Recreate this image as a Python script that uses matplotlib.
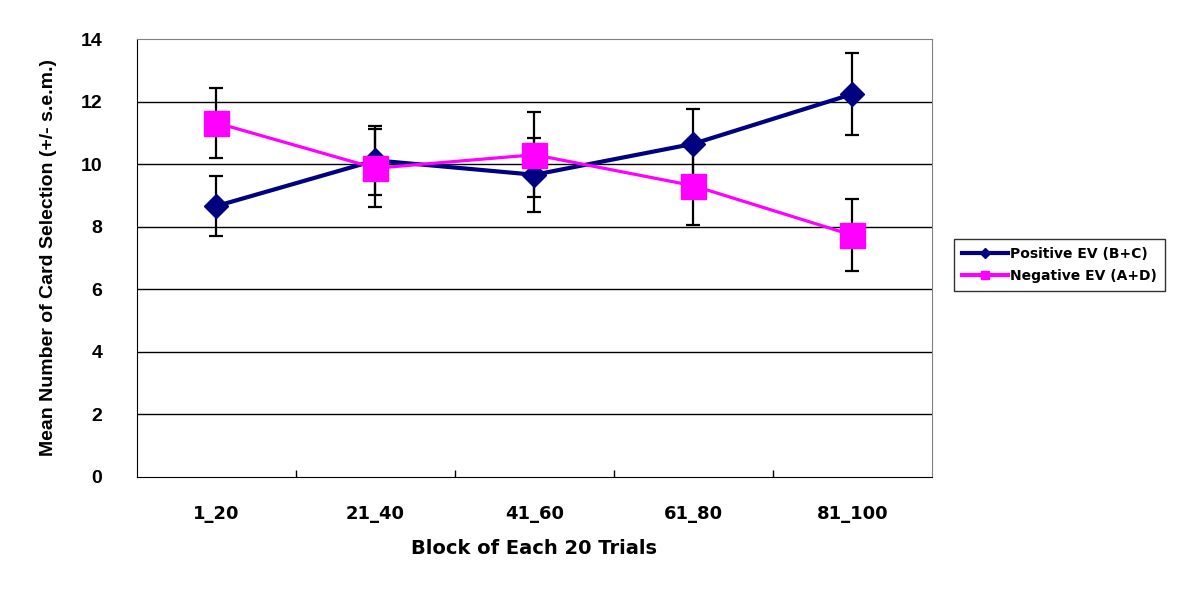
import numpy as np
import matplotlib.pyplot as plt
from matplotlib.lines import Line2D

blocks = ['1_20', '21_40', '41_60', '61_80', '81_100']
pos_mean = [8.66, 10.12, 9.66, 10.65, 12.24]
pos_sem = [0.97, 1.10, 1.19, 1.10, 1.32]
neg_mean = [11.32, 9.87, 10.30, 9.31, 7.73]
neg_sem = [1.12, 1.24, 1.36, 1.24, 1.15]

navy = '#000080'
magenta = '#FF00FF'
font = 'Liberation Sans'
wide = 'DejaVu Sans'

fig = plt.figure(figsize=(11.81, 5.91), dpi=100)
ax = fig.add_axes([0.116, 0.193, 0.673, 0.741])

x = np.arange(len(blocks))

ax.errorbar(x, pos_mean, yerr=pos_sem, fmt='none', ecolor='black',
            elinewidth=1.6, capsize=5, capthick=1.6, zorder=2)
ax.errorbar(x, neg_mean, yerr=neg_sem, fmt='none', ecolor='black',
            elinewidth=1.6, capsize=5, capthick=1.6, zorder=2)
ax.plot(x, pos_mean, color=navy, lw=3, marker='D', ms=12, zorder=3)
ax.plot(x, neg_mean, color=magenta, lw=2.3, marker='s', ms=18, zorder=4)

ax.set_xlim(-0.5, len(blocks) - 0.5)
ax.set_ylim(0, 14)
ax.set_yticks(range(0, 15, 2))
for yv in range(2, 14, 2):
    ax.axhline(yv, color='black', lw=1, zorder=1)

ax.set_xticks(x)
ax.set_xticklabels(blocks)
ax.set_xticks(np.arange(0.5, len(blocks) - 0.5), minor=True)
ax.tick_params(axis='x', which='major', length=0, pad=20)
ax.tick_params(axis='x', which='minor', direction='in', length=5, width=1)
ax.tick_params(axis='y', length=0, pad=25)
for lab in ax.get_xticklabels():
    lab.set_fontfamily(wide)
    lab.set_fontweight('bold')
    lab.set_fontsize(13)
for lab in ax.get_yticklabels():
    lab.set_fontfamily(font)
    lab.set_fontweight('bold')
    lab.set_fontsize(14)

for s in ['top', 'right']:
    ax.spines[s].set_color('#808080')
for s in ['left', 'bottom']:
    ax.spines[s].set_color('black')

ax.set_xlabel('Block of Each 20 Trials', fontfamily=wide, fontweight='bold',
              fontsize=14, labelpad=12)
ax.set_ylabel('Mean Number of Card Selection (+/- s.e.m.)', fontfamily=font,
              fontweight='bold', fontsize=14, labelpad=17)

handles = [Line2D([], [], color=navy, lw=3, marker='D', ms=5),
           Line2D([], [], color=magenta, lw=3, marker='s', ms=6)]
leg = fig.legend(handles, ['Positive EV (B+C)', 'Negative EV (A+D)'],
                 loc='upper left', bbox_to_anchor=(0.802, 0.607),
                 frameon=True, fancybox=False, edgecolor='black',
                 handlelength=3.3, handletextpad=0.2, borderpad=0.55,
                 labelspacing=0.6, prop={'family': wide, 'weight': 'bold', 'size': 10})
leg.get_frame().set_linewidth(1)

fig.savefig('out.png', dpi=100)
